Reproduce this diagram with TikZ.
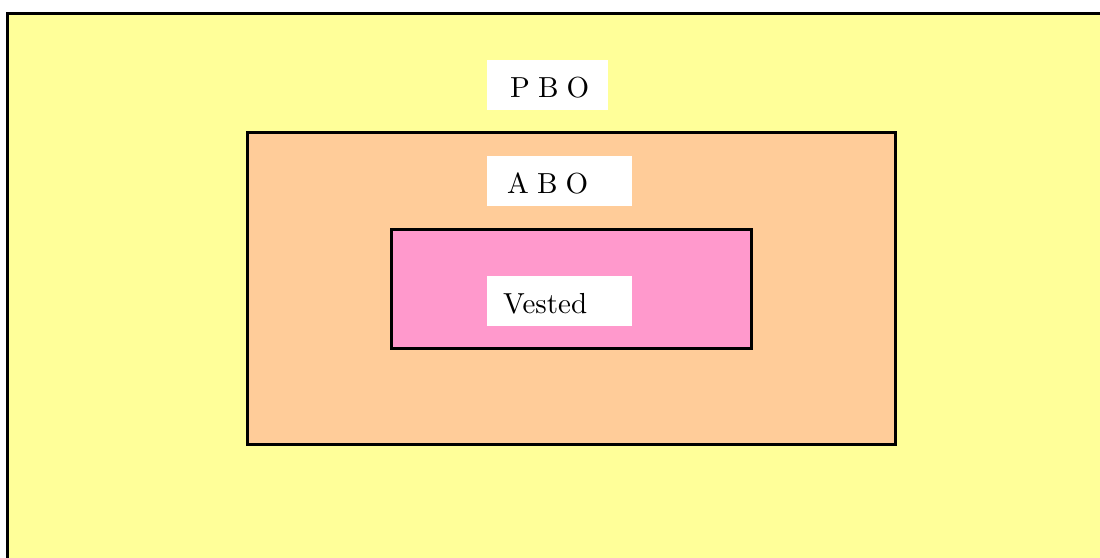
\documentclass[tikz,border=0pt]{standalone}
\usepackage{xcolor}
\definecolor{pboyellow}{HTML}{FFFF99}
\definecolor{aboorange}{HTML}{FFCC99}
\definecolor{vestpink}{HTML}{FF99CC}
\newcommand{\biglabel}[1]{\scalebox{2.9}{\normalsize #1}}
\newcommand{\gp}{\hspace{0.28em}}
\tikzset{
  region/.style={draw=black, line width=2.2pt},
  labelbox/.style={fill=white, draw=none},
  labeltext/.style={anchor=base west, inner sep=0pt},
}
\begin{document}
\begin{tikzpicture}[x=1pt,y=-1pt]
\useasboundingbox (0,0) rectangle (1100,557);
\begin{scope}
\clip (0,0) rectangle (1100,557);
\draw[region, fill=pboyellow] (7.5,13.5) rectangle (1112,572);
\end{scope}
\draw[region, fill=aboorange] (247.5,132.5) rectangle (895.5,444.5);
\draw[region, fill=vestpink] (391.5,229.5) rectangle (751.5,348.5);
% label boxes
\fill[labelbox] (487,60) rectangle (608,110);
\fill[labelbox] (487,156) rectangle (632,206);
\fill[labelbox] (487,276) rectangle (632,326);
\node[labeltext] (pbo) at (510,97) {\biglabel{P\gp B\gp O}};
\node[labeltext] (abo) at (507,193) {\biglabel{A\gp B\gp O}};
\node[labeltext] (vested) at (503,313) {\biglabel{Vested}};
\end{tikzpicture}
\end{document}
